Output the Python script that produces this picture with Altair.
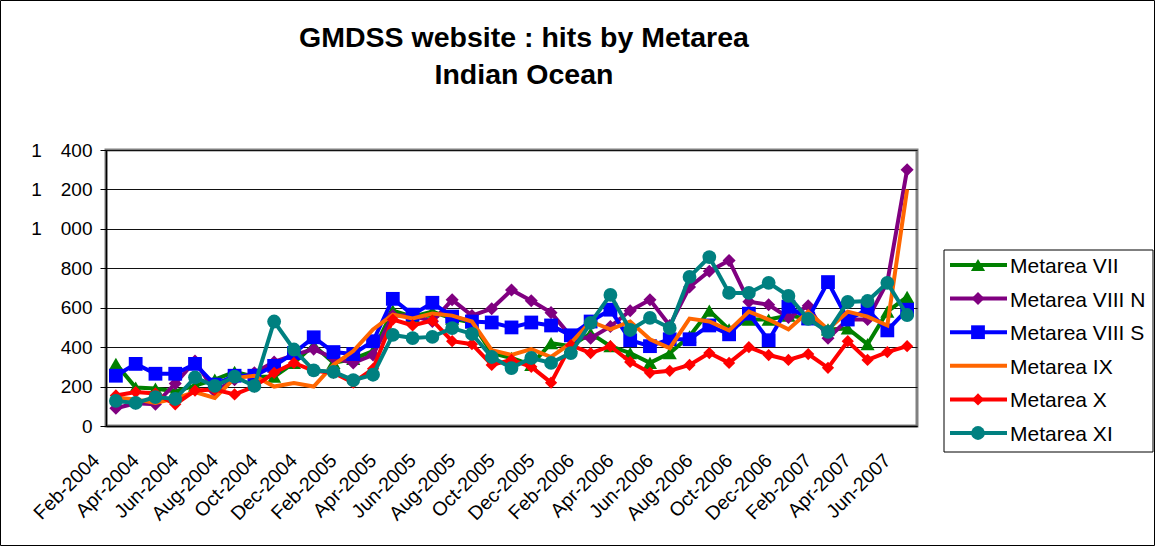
import altair as alt
import pandas as pd

# Monthly categories, Feb-2004 .. Jun-2007
month_names = ["Jan", "Feb", "Mar", "Apr", "May", "Jun",
               "Jul", "Aug", "Sep", "Oct", "Nov", "Dec"]
months = []
for year in (2004, 2005, 2006, 2007):
    for m in month_names:
        months.append(f"{m}-{year}")
months = months[1:months.index("Jun-2007") + 1]

series_names = ["Metarea VII", "Metarea VIII N", "Metarea VIII S",
                "Metarea IX", "Metarea X", "Metarea XI"]

metarea_vii = [315, 195, 190, 175, 205, 235, 275, 250, 250, 320,
               410, 320, 340, 380, 585, 555, 580, 545, 525, 370,
               345, 310, 420, 405, 470, 405, 370, 320, 370, 455,
               585, 490, 540, 540, 560, 545, 490, 495, 415, 580, 655]
metarea_viii_n = [90, 115, 110, 215, 330, 175, 235, 270, 325, 360,
                  390, 345, 320, 360, 560, 560, 530, 640, 560, 595,
                  690, 635, 575, 455, 445, 505, 585, 640, 510, 705,
                  785, 840, 630, 615, 550, 610, 445, 540, 540, 730, 1300]
metarea_viii_s = [255, 315, 265, 265, 315, 210, 255, 255, 305, 370,
                  450, 375, 365, 430, 645, 565, 625, 555, 530, 525,
                  500, 525, 510, 460, 530, 590, 435, 405, 440, 440,
                  510, 465, 570, 435, 605, 545, 730, 540, 590, 485, 590]
metarea_ix = [145, 135, 117, 140, 172, 142, 243, 255, 200, 218,
              200, 310, 380, 490, 565, 545, 570, 560, 530, 385,
              360, 390, 350, 420, 530, 490, 530, 440, 395, 545,
              530, 485, 580, 540, 490, 580, 490, 580, 555, 510, 1200]
metarea_x = [155, 172, 165, 110, 180, 185, 160, 200, 270, 320,
             280, 270, 220, 290, 540, 510, 535, 430, 415, 310,
             335, 300, 220, 410, 370, 405, 325, 270, 280, 310,
             370, 320, 400, 360, 335, 365, 295, 430, 335, 375, 405]
metarea_xi = [127, 117, 147, 137, 247, 203, 250, 203, 530, 388,
              282, 275, 233, 260, 462, 446, 452, 497, 467, 350,
              294, 345, 320, 370, 523, 665, 487, 548, 497, 756,
              857, 675, 675, 726, 660, 543, 477, 629, 634, 726, 563]

series_values = [metarea_vii, metarea_viii_n, metarea_viii_s,
                 metarea_ix, metarea_x, metarea_xi]

title_lines = ["GMDSS website : hits by Metarea", "Indian Ocean"]

colors = ["#008000", "#800080", "#0000FF", "#FF6600", "#FF0000", "#008080"]
shapes = ["triangle-up", "diamond", "square", None, "diamond", "circle"]
marker_sizes = [200, 170, 190, 0, 150, 190]

FONT = "Liberation Sans"
W, H = 811, 276

color_scale = alt.Scale(domain=series_names, range=colors)

x_enc = alt.X(
    "month:O", sort=months,
    scale=alt.Scale(type="point", padding=0.5),
    axis=alt.Axis(values=months[::2], labelAngle=-45, labelAlign="right",
                  labelBaseline="middle", labelPadding=31, labelOffset=-20,
                  ticks=False, title=None, labelFontSize=19.5, labelFont=FONT,
                  labelColor="black", domainColor="black", domainWidth=1.5,
                  grid=False),
)
# thousands are grouped with a wide space: "1 400"
y_enc = alt.Y(
    "hits:Q",
    scale=alt.Scale(domain=[0, 1400], nice=False),
    axis=alt.Axis(values=list(range(0, 1401, 200)), title=None,
                  labelExpr="replace(format(datum.value, ','), ',', '\u2003')",
                  labelFontSize=19, labelFont=FONT, labelColor="black",
                  labelPadding=8, tickSize=6, tickColor="black",
                  domainColor="black", domainWidth=1.5,
                  grid=True, gridColor="#111111", gridWidth=1),
)

layers = []
for name, vals, shape, size in zip(series_names, series_values, shapes, marker_sizes):
    df = pd.DataFrame({"month": months, "hits": vals, "series": name})
    base = alt.Chart(df).encode(
        x=x_enc, y=y_enc,
        color=alt.Color("series:N", scale=color_scale, legend=None),
    )
    layers.append(base.mark_line(strokeWidth=4))
    if shape:
        layers.append(base.mark_point(shape=shape, filled=True, size=size, opacity=1))

# Legend drawn as its own layers: box, line samples, markers and labels
legend_df = pd.DataFrame({
    "series": series_names,
    "ly": [115 + 33.6 * k for k in range(len(series_names))],
    "shape": [s if s else "circle" for s in shapes],
    "msize": marker_sizes,
})
one_row = pd.DataFrame({"k": [0]})

legend_box = alt.Chart(one_row).mark_rect(
    fill="white", stroke="black", strokeWidth=1
).encode(x=alt.value(838), x2=alt.value(1047), y=alt.value(100), y2=alt.value(302))

legend_lines = alt.Chart(legend_df).mark_rule(strokeWidth=4).encode(
    x=alt.value(844), x2=alt.value(901),
    y=alt.Y("ly:Q", scale=None),
    color=alt.Color("series:N", scale=color_scale, legend=None),
)
legend_marks = alt.Chart(legend_df).transform_filter(
    "datum.msize > 0"
).mark_point(filled=True, opacity=1).encode(
    x=alt.value(872),
    y=alt.Y("ly:Q", scale=None),
    color=alt.Color("series:N", scale=color_scale, legend=None),
    shape=alt.Shape("shape:N", scale=None),
    size=alt.Size("msize:Q", scale=None),
)
legend_text = alt.Chart(legend_df).mark_text(
    align="left", baseline="middle", fontSize=21, font=FONT, color="black", dy=2
).encode(x=alt.value(904), y=alt.Y("ly:Q", scale=None), text="series:N")

# Two-line chart title above the plot
title_df = pd.DataFrame({"line": title_lines, "ty": [-112, -75]})
title_text = alt.Chart(title_df).mark_text(
    align="center", baseline="middle", fontSize=28.5, fontWeight="bold",
    font=FONT, color="black"
).encode(x=alt.value(418), y=alt.Y("ty:Q", scale=None), text="line:N")

frame = alt.Chart(one_row).mark_rect(
    fill=None, stroke="black", strokeWidth=1
).encode(x=alt.value(-105.5), x2=alt.value(1048.5), y=alt.value(-149.5), y2=alt.value(395.5))

chart = alt.layer(
    frame, title_text, *layers, legend_box, legend_lines, legend_marks, legend_text
).properties(
    width=W, height=H,
    autosize=alt.AutoSizeParams(type="none"),
    padding={"left": 106, "top": 150, "right": 238, "bottom": 120},
    background="white",
).configure_view(
    stroke="#808080", strokeWidth=3
)

chart.save("out.html", embed_options={"renderer": "svg", "actions": False})
